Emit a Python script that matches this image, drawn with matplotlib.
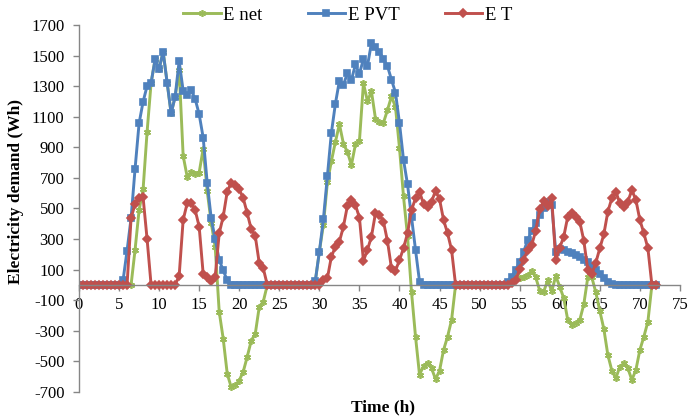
import numpy as np
import matplotlib
matplotlib.use("Agg")
import matplotlib.pyplot as plt

plt.rcParams['font.family'] = ['Liberation Serif', 'DejaVu Serif']

# time axis (h), half-hour steps 0 ... 72
hours = np.arange(0, 72.5, 0.5)

# E PVT (Wh)
e_pvt = ([0] * 11 +
         [30, 224, 436, 760, 1057, 1198, 1301, 1322, 1475, 1412, 1525, 1322, 1122, 1231,
          1464, 1270, 1242, 1275, 1216, 1116, 963, 669, 436, 300, 163, 95, 30,
          0, 0, 0, 0, 0, 0, 0, 0, 0, 0] +
         [0] * 11 +
         [28, 218, 428, 714, 995, 1185, 1335, 1305, 1388, 1340, 1442, 1381, 1477, 1432,
          1582, 1557, 1525, 1475, 1431, 1342, 1258, 1058, 819, 658, 443, 229, 22,
          0, 0, 0, 0, 0, 0, 0, 0, 0] +
         [0] * 12 +
         [22, 54, 98, 152, 218, 294, 355, 403, 458, 505, 545, 525, 218, 233, 229, 218,
          207, 196, 185, 163, 148, 120, 98, 70, 44, 22, 7,
          0, 0, 0, 0, 0, 0, 0, 0, 0, 0, 0])

# E T (Wh)
e_t = ([0] * 11 +
       [0, 0, 436, 530, 568, 573, 300, 0, 0, 0, 0, 0, 0, 0,
        59, 425, 534, 534, 490, 381, 72, 54, 28, 54, 338, 447, 610,
        669, 654, 625, 567, 469, 364, 320, 142, 109, 0] +
       [0] * 11 +
       [0, 0, 35, 44, 185, 250, 283, 381, 518, 556, 523, 440, 158, 230,
        316, 469, 460, 414, 287, 109, 94, 163, 240, 338, 490, 567, 610,
        529, 512, 545, 616, 560, 425, 338, 229, 0] +
       [0] * 12 +
       [0, 10, 30, 105, 165, 230, 262, 353, 495, 548, 515, 566, 160, 244, 316, 447,
        468, 446, 414, 290, 98, 70, 146, 240, 331, 479, 567,
        610, 534, 512, 545, 621, 556, 425, 338, 240, 0, 0])

# E net (Wh)
e_net = ([0] * 11 +
         [0, 0, 0, 230, 489, 625, 1001, 1322, 1475, 1412, 1525, 1322, 1122, 1231,
          1405, 845, 708, 741, 726, 735, 891, 615, 408, 246, -175, -352, -580,
          -669, -654, -625, -567, -469, -364, -320, -142, -109, 0] +
         [0] * 11 +
         [28, 218, 393, 670, 810, 935, 1052, 924, 870, 784, 919, 941, 1319, 1202,
          1266, 1088, 1065, 1061, 1144, 1233, 1164, 895, 579, 320, -47, -338, -588,
          -529, -512, -545, -616, -560, -425, -338, -229, 0] +
         [0] * 12 +
         [22, 44, 68, 47, 53, 64, 93, 50, -37, -43, 30, -41, 58, -11, -87, -229,
          -261, -250, -229, -127, 50, 50, -48, -170, -287, -457, -560,
          -610, -534, -512, -545, -621, -556, -425, -338, -240, 0, 0])

series_names = ['E net', 'E PVT', 'E T']
series_colors = ['#9BBB59', '#4F81BD', '#C0504D']

x_ticks = list(range(0, 80, 5))
y_ticks = list(range(-700, 1800, 200))
y_tick_labels = [str(v) for v in y_ticks]

fig = plt.figure(figsize=(6.91, 4.20), dpi=100)
ax = fig.add_axes([0.1143, 0.0667, 0.8697, 0.8738])

series = [e_net, e_pvt, e_t]
markers = [(6, 2, 0), 's', 'D']
msizes = [5, 5, 4.2]
for vals, name, col, mk, ms in zip(series, series_names, series_colors, markers, msizes):
    ax.plot(hours, vals, color=col, lw=2.1, marker=mk, ms=ms,
            mfc=col, mec=col, mew=1.2, label=name)

ax.set_xlim(0, 75)
ax.set_ylim(-700, 1700)
ax.set_xticks(x_ticks)
ax.set_xticklabels([str(v) for v in x_ticks])
ax.set_yticks(y_ticks)
ax.set_yticklabels(y_tick_labels)

for s in ['top', 'right']:
    ax.spines[s].set_visible(False)
ax.spines['bottom'].set_position(('data', 0))
ax.spines['bottom'].set_color('#868686')
ax.spines['left'].set_color('#868686')
ax.spines['bottom'].set_linewidth(1.0)
ax.spines['left'].set_linewidth(1.0)
ax.tick_params(axis='both', colors='#868686', labelcolor='black', labelsize=12,
               length=4, width=1.0, direction='out')
ax.tick_params(axis='x', pad=4.5)
ax.tick_params(axis='y', pad=6.5)

fig.text(0.554, 0.012, 'Time (h)', ha='center', va='bottom', fontsize=12.5, fontweight='bold')
fig.text(0.023, 0.543, 'Electricity demand (Wh)', ha='center', va='center', rotation=90,
         fontsize=12.5, fontweight='bold')

fig.legend(loc='center left', bbox_to_anchor=(183 / 691, 1 - 15 / 420), ncol=3,
           frameon=False, fontsize=13.5, handlelength=2.0, columnspacing=2.4,
           handletextpad=0.15, borderpad=0, borderaxespad=0)

fig.savefig('out.png', dpi=100)
